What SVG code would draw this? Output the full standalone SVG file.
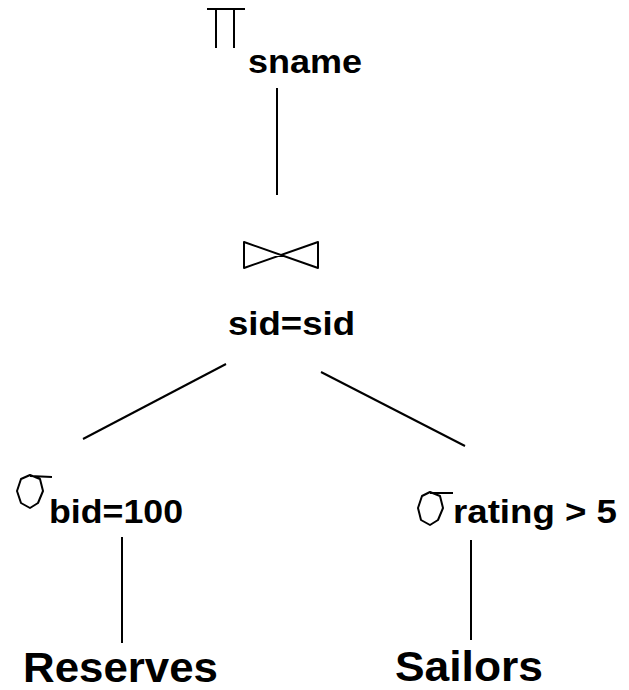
<svg xmlns="http://www.w3.org/2000/svg" width="629" height="690" viewBox="0 0 629 690">
<style>
.ln{stroke:#000;stroke-width:2;fill:none;stroke-linecap:butt}
.sym{stroke:#000;stroke-width:2;fill:none;stroke-linejoin:round}
.lbl{font-family:"Liberation Sans",Arial,sans-serif;font-weight:bold;font-size:34px;fill:#000}
.big{font-family:"Liberation Sans",Arial,sans-serif;font-weight:bold;font-size:42px;fill:#000}
</style>
<rect width="629" height="690" fill="#fff"/>
<g id="connectors">
<line class="ln" x1="277" y1="88" x2="277" y2="195"/>
<line class="ln" x1="226" y1="364" x2="83" y2="439"/>
<line class="ln" x1="321" y1="372" x2="465" y2="446"/>
<line class="ln" x1="122" y1="537" x2="122" y2="643"/>
<line class="ln" x1="471" y1="540" x2="471" y2="640"/>
</g>
<g id="project">
<path class="sym" d="M207,9 H245 M216,9 V48 M234,9 V48"/>
<text class="lbl" x="248" y="73" textLength="114" lengthAdjust="spacingAndGlyphs">sname</text>
</g>
<g id="join">
<path class="sym" d="M244,242 L318,268 L318,242 L244,268 Z"/>
<text class="lbl" x="228" y="335" textLength="127" lengthAdjust="spacingAndGlyphs">sid=sid</text>
</g>
<g id="select-bid">
<path class="sym" d="M30,475 L40,479 L43,491 L38,503 L30,508 L21,503 L17,491 L21,479 Z M30,476 L52,477"/>
<text class="lbl" x="49" y="523" textLength="134" lengthAdjust="spacingAndGlyphs">bid=100</text>
</g>
<g id="select-rating">
<path class="sym" d="M430,492 L440,496 L443,508 L438,520 L430,525 L421,520 L418,508 L422,496 Z M430,493 L453,493"/>
<text class="lbl" x="453" y="523" textLength="164" lengthAdjust="spacingAndGlyphs">rating &gt; 5</text>
</g>
<g id="reserves">
<text class="big" x="23" y="682" textLength="195" lengthAdjust="spacingAndGlyphs">Reserves</text>
</g>
<g id="sailors">
<text class="big" x="395" y="681" textLength="148" lengthAdjust="spacingAndGlyphs">Sailors</text>
</g>
</svg>
